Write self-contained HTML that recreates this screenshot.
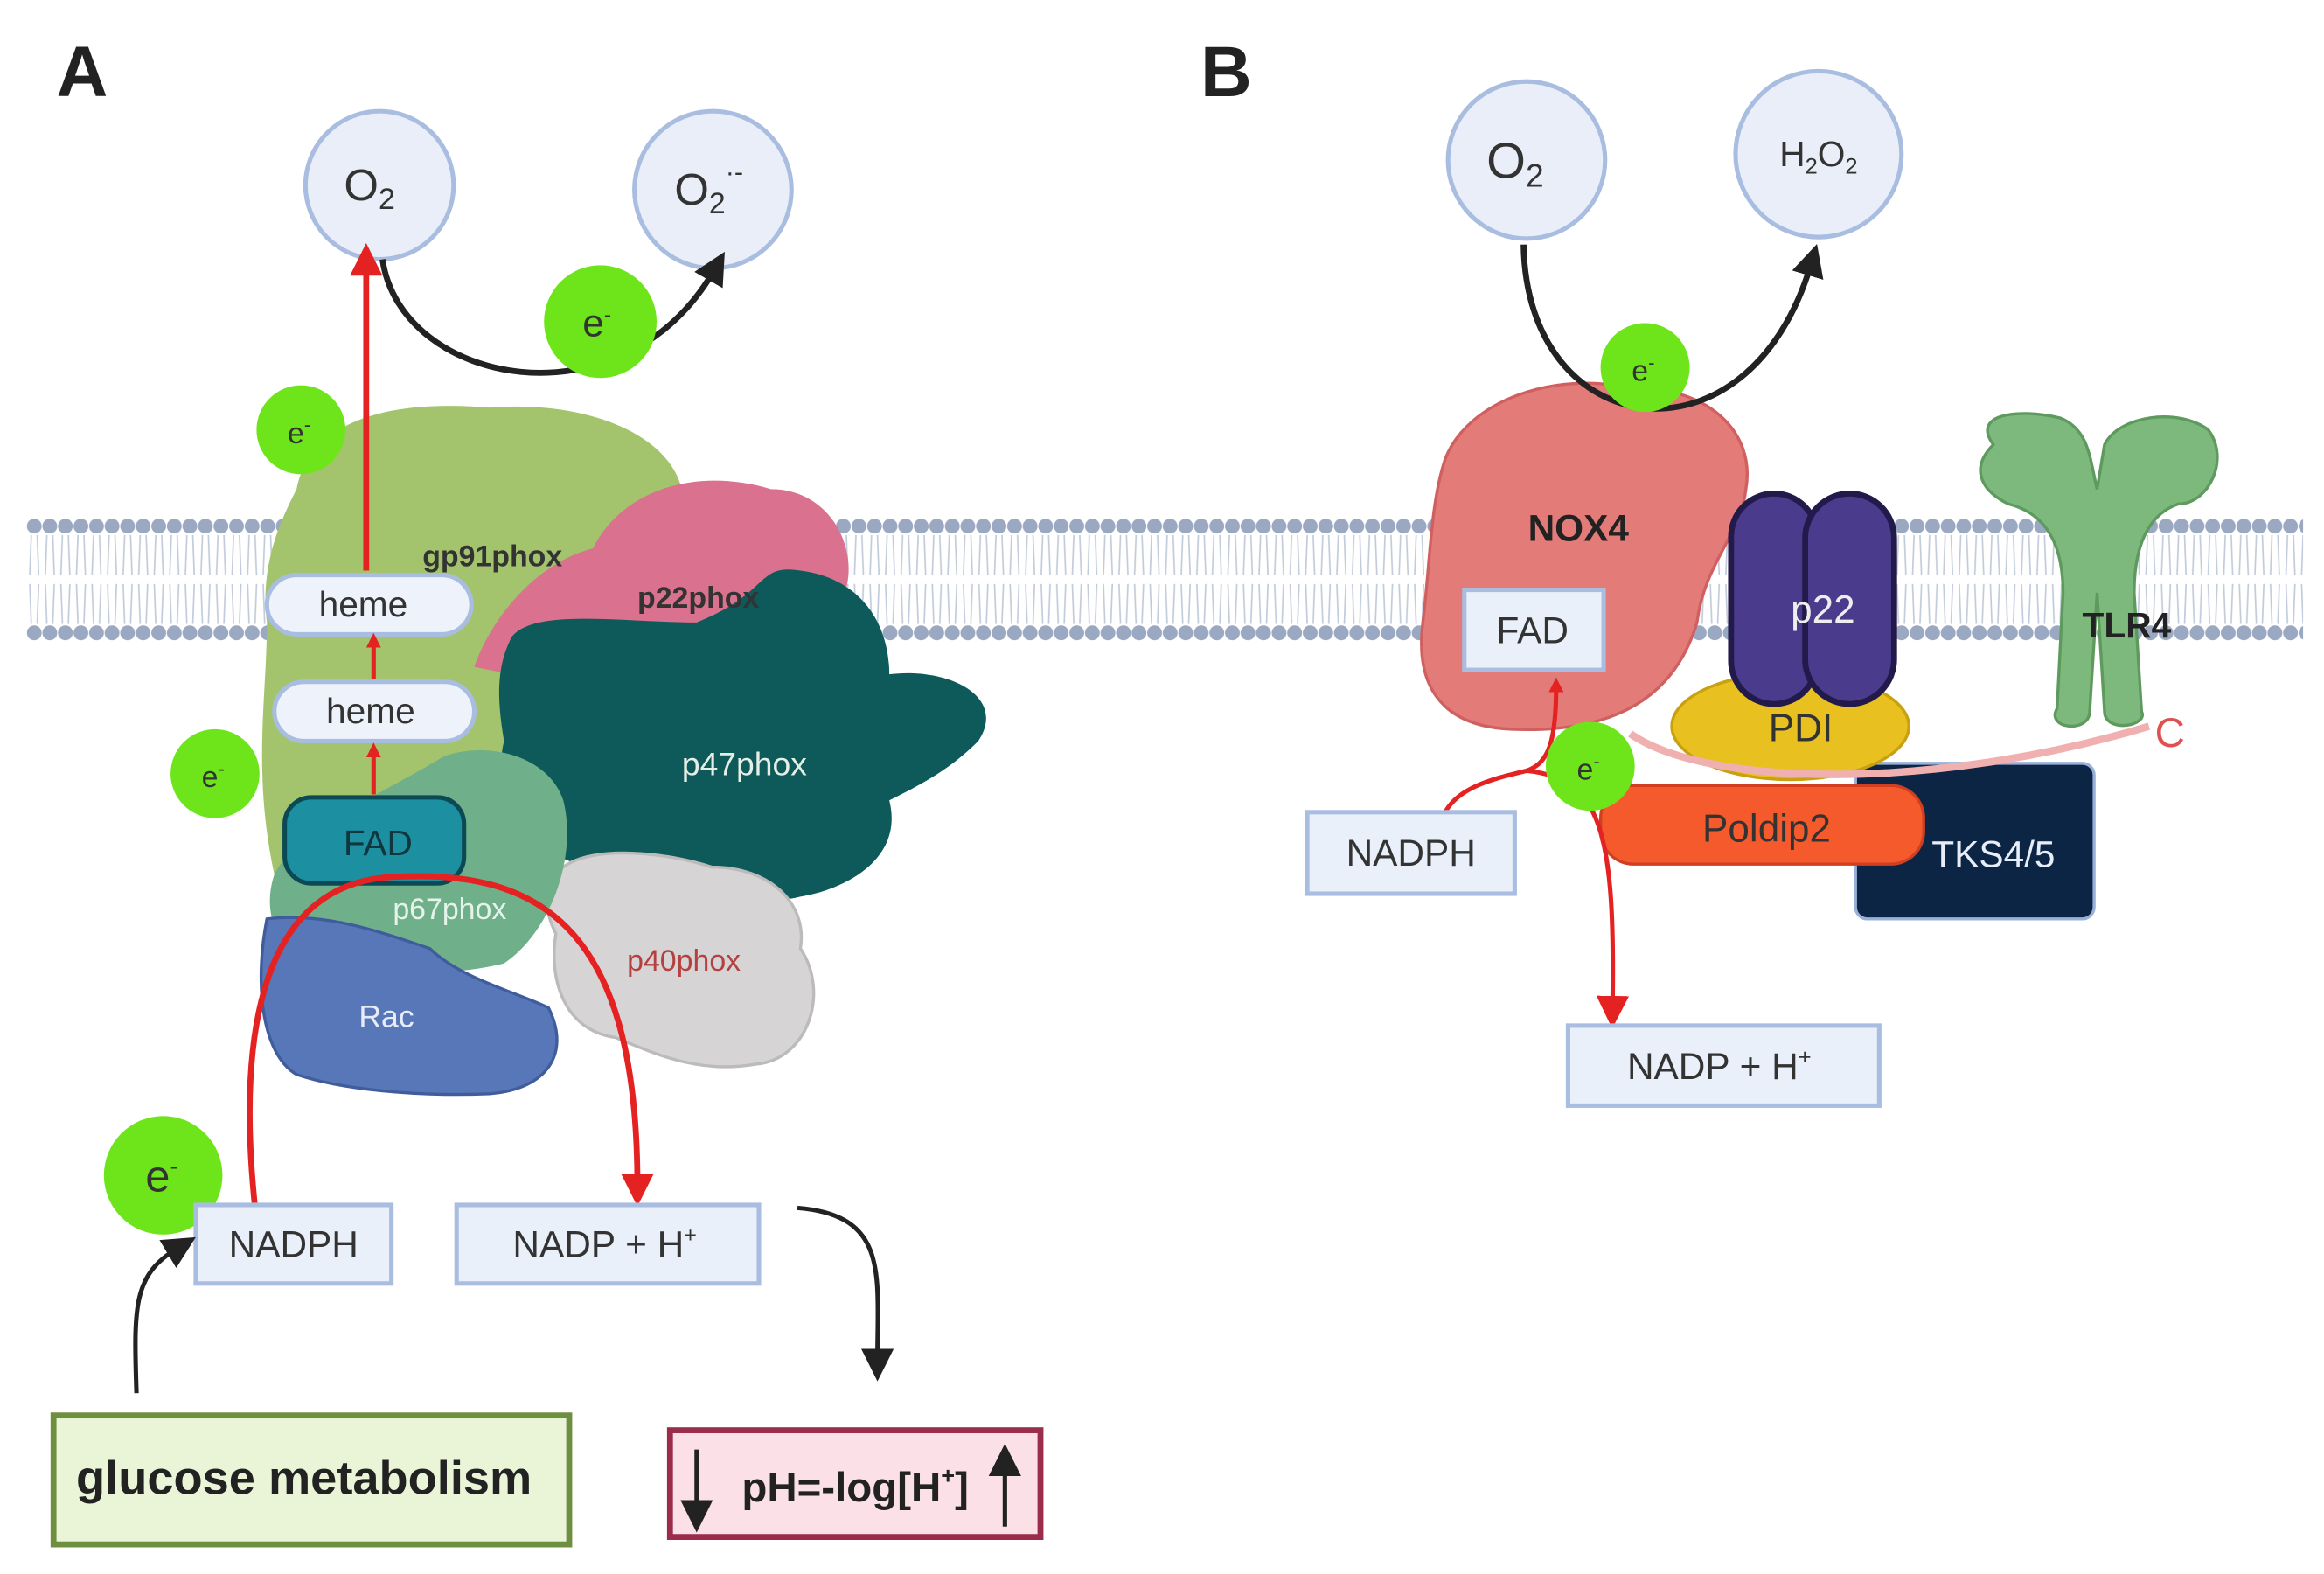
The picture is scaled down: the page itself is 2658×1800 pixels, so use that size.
<!DOCTYPE html>
<html><head><meta charset="utf-8"><style>
html,body{margin:0;padding:0;background:#fff;}
svg{display:block;font-family:"Liberation Sans",sans-serif;}
</style></head><body>
<svg width="2658" height="1800" viewBox="0 0 1568 1062" xmlns="http://www.w3.org/2000/svg">
<defs>
<pattern id="beads" x="18" y="0" width="10.5" height="1062" patternUnits="userSpaceOnUse">
<circle cx="5" cy="355" r="5" fill="#9aa8c2"/>
<circle cx="5" cy="427" r="5" fill="#9aa8c2"/>
<path d="M3 361 L2 388 M7 361 L8 388 M3 421 L2 394 M7 421 L8 394" stroke="#c2cbdb" stroke-width="1" fill="none"/>
</pattern>
<marker id="ar" markerWidth="10" markerHeight="10" refX="5" refY="5" orient="auto" markerUnits="userSpaceOnUse" viewBox="0 0 10 10"><path d="M0 0 L10 5 L0 10z" fill="#e52222"/></marker>
<marker id="arB" markerWidth="22" markerHeight="22" refX="8" refY="11" orient="auto" markerUnits="userSpaceOnUse" viewBox="0 0 22 22"><path d="M0 0 L22 11 L0 22z" fill="#222"/></marker>
<marker id="arR" markerWidth="22" markerHeight="22" refX="8" refY="11" orient="auto" markerUnits="userSpaceOnUse" viewBox="0 0 22 22"><path d="M0 0 L22 11 L0 22z" fill="#e52222"/></marker>
</defs>
<rect width="1568" height="1062" fill="#fff"/>
<rect x="18" y="340" width="1536" height="100" fill="url(#beads)"/>

<text x="38" y="65" font-size="48" font-weight="bold" fill="#222">A</text>
<text x="810" y="65" font-size="48" font-weight="bold" fill="#222">B</text>

<!-- A circles -->
<circle cx="256" cy="125" r="50" fill="#e9eef8" stroke="#a8bde0" stroke-width="3"/>
<text x="232" y="135" font-size="30" fill="#333">O<tspan font-size="20" dy="6">2</tspan></text>
<circle cx="481" cy="128" r="53" fill="#e9eef8" stroke="#a8bde0" stroke-width="3"/>
<text x="455" y="138" font-size="30" fill="#333">O<tspan font-size="20" dy="6">2</tspan><tspan font-size="18" dy="-22">·-</tspan></text>
<path d="M258 175 C270 260,420 290,482 182" stroke="#222" stroke-width="4" fill="none" marker-end="url(#arB)"/>

<!-- A proteins -->
<path d="M200 330 C210 280,270 270,330 275 C390 270,450 290,460 330 C470 370,430 400,400 420 C380 480,380 560,330 560 C300 620,200 640,185 590 C170 520,180 470,180 420 C175 380,190 350,200 330z" fill="#a3c46d"/>
<path d="M320 450 C330 420,360 380,400 370 C420 330,470 315,520 330 C560 330,580 370,570 400 C560 440,500 470,470 470 C420 470,370 460,320 450z" fill="#d9718f"/>
<path d="M345 430 C360 410,420 420,470 420 C520 400,510 380,540 385 C580 390,600 420,600 455 C640 450,680 470,660 500 C640 520,620 530,600 540 C610 580,570 600,540 605 C500 615,450 595,400 585 C360 580,330 540,340 500 C335 470,335 450,345 430z" fill="#0e5a5a"/>
<path d="M380 585 C400 570,450 575,480 585 C520 585,545 610,540 640 C560 670,545 715,510 718 C470 725,440 710,415 700 C380 695,370 660,375 630 C365 610,368 595,380 585z" fill="#d6d4d4" stroke="#bbb" stroke-width="2"/>
<path d="M185 590 C200 560,250 540,300 510 C330 500,370 510,380 540 C390 580,370 630,340 650 C300 660,230 660,195 640 C180 625,180 605,185 590z" fill="#6fb08a"/>
<path d="M180 620 C220 615,260 630,290 640 C310 660,350 670,370 680 C385 710,370 735,330 738 C280 740,230 735,200 725 C175 710,172 660,180 620z" fill="#5877b8" stroke="#3f5d9c" stroke-width="2"/>
<text x="285" y="382" font-size="20" font-weight="bold" fill="#333">gp91phox</text>
<text x="430" y="410" font-size="20" font-weight="bold" fill="#333">p22phox</text>
<text x="460" y="523" font-size="22" fill="#e6efe6">p47phox</text>
<text x="423" y="655" font-size="20" fill="#b54040">p40phox</text>
<text x="265" y="620" font-size="20" fill="#e6f3ea">p67phox</text>
<text x="242" y="693" font-size="21" fill="#e6ecf8">Rac</text>

<!-- heme/FAD -->
<line x1="247" y1="385" x2="247" y2="178" stroke="#e52222" stroke-width="4" marker-end="url(#arR)"/>
<rect x="180" y="388" width="138" height="40" rx="20" fill="#eef2fb" stroke="#a8bde0" stroke-width="3"/>
<text x="245" y="416" font-size="24" text-anchor="middle" fill="#333">heme</text>
<line x1="252" y1="458" x2="252" y2="432" stroke="#e52222" stroke-width="3" marker-end="url(#ar)"/>
<rect x="185" y="460" width="135" height="40" rx="20" fill="#eef2fb" stroke="#a8bde0" stroke-width="3"/>
<text x="250" y="488" font-size="24" text-anchor="middle" fill="#333">heme</text>
<line x1="252" y1="536" x2="252" y2="506" stroke="#e52222" stroke-width="3" marker-end="url(#ar)"/>
<rect x="192" y="538" width="121" height="58" rx="18" fill="#1c8fa0" stroke="#0b4a55" stroke-width="3"/>
<text x="255" y="577" font-size="24" text-anchor="middle" fill="#10363e">FAD</text>

<!-- red arc A -->
<path d="M172 815 C160 700,175 600,260 592 C360 585,430 620,430 800" stroke="#e52222" stroke-width="4" fill="none" marker-end="url(#arR)"/>

<!-- e- circles -->
<g font-size="26" fill="#333">
<circle cx="405" cy="217" r="38" fill="#6ee51a"/><text x="393" y="227">e<tspan font-size="15" dy="-10">-</tspan></text>
<circle cx="203" cy="290" r="30" fill="#6ee51a"/><text x="194" y="299" font-size="20">e<tspan font-size="13" dy="-8">-</tspan></text>
<circle cx="145" cy="522" r="30" fill="#6ee51a"/><text x="136" y="531" font-size="20">e<tspan font-size="13" dy="-8">-</tspan></text>
<circle cx="110" cy="793" r="40" fill="#6ee51a"/><text x="98" y="804" font-size="30">e<tspan font-size="16" dy="-12">-</tspan></text>
<circle cx="1110" cy="248" r="30" fill="#6ee51a"/><text x="1101" y="257" font-size="20">e<tspan font-size="13" dy="-8">-</tspan></text>
</g>

<!-- A bottom boxes -->
<rect x="132" y="813" width="132" height="53" fill="#eaf0fa" stroke="#a8bde0" stroke-width="3"/>
<text x="198" y="848" font-size="25" text-anchor="middle" fill="#333">NADPH</text>
<rect x="308" y="813" width="204" height="53" fill="#eaf0fa" stroke="#a8bde0" stroke-width="3"/>
<text x="408" y="848" font-size="25" text-anchor="middle" fill="#333">NADP + H<tspan font-size="15" dy="-10">+</tspan></text>
<path d="M538 815 C600 820,592 860,592 918" stroke="#222" stroke-width="3" fill="none" marker-end="url(#arB)"/>
<path d="M92 940 C90 880,90 860,120 842" stroke="#222" stroke-width="3" fill="none" marker-end="url(#arB)"/>
<rect x="36" y="955" width="348" height="87" fill="#eaf5d8" stroke="#6f8f40" stroke-width="4"/>
<text x="205" y="1008" font-size="32" font-weight="bold" text-anchor="middle" fill="#222">glucose metabolism</text>
<rect x="452" y="965" width="250" height="72" fill="#fbe0e8" stroke="#9a2c4c" stroke-width="4"/>
<line x1="470" y1="978" x2="470" y2="1020" stroke="#222" stroke-width="3" marker-end="url(#arB)"/>
<line x1="678" y1="1030" x2="678" y2="988" stroke="#222" stroke-width="3" marker-end="url(#arB)"/>
<text x="577" y="1013" font-size="28" font-weight="bold" text-anchor="middle" fill="#222">pH=-log[H<tspan font-size="16" dy="-12">+</tspan><tspan dy="12">]</tspan></text>

<!-- B -->
<circle cx="1030" cy="108" r="53" fill="#e9eef8" stroke="#a8bde0" stroke-width="3"/>
<text x="1003" y="120" font-size="34" fill="#333">O<tspan font-size="22" dy="6">2</tspan></text>
<circle cx="1227" cy="104" r="56" fill="#e9eef8" stroke="#a8bde0" stroke-width="3"/>
<text x="1227" y="112" font-size="24" text-anchor="middle" fill="#333">H<tspan font-size="15" dy="5">2</tspan><tspan dy="-5">O</tspan><tspan font-size="15" dy="5">2</tspan></text>

<path d="M975 310 C990 270,1050 250,1100 262 C1150 260,1185 290,1178 330 C1175 360,1150 380,1145 420 C1130 470,1090 495,1020 492 C970 490,955 460,960 420 C965 380,965 340,975 310z" fill="#e37b78" stroke="#d06060" stroke-width="2"/>
<path d="M1028 165 C1030 300,1180 320,1222 178" stroke="#222" stroke-width="4" fill="none" marker-end="url(#arB)"/>
<circle cx="1110" cy="248" r="30" fill="#6ee51a"/><text x="1101" y="257" font-size="20" fill="#333">e<tspan font-size="13" dy="-8">-</tspan></text>
<text x="1065" y="365" font-size="25" font-weight="bold" text-anchor="middle" fill="#222">NOX4</text>

<!-- TLR4 -->
<path d="M1345 300 C1330 280,1360 275,1390 282 C1410 290,1410 310,1415 330 L1420 300 C1430 280,1470 275,1490 290 C1505 310,1490 340,1470 340 C1455 345,1440 360,1440 400 L1445 480 C1450 490,1420 495,1420 480 L1415 400 L1410 480 C1410 495,1380 492,1388 478 L1392 400 C1392 360,1375 345,1355 340 C1335 330,1330 315,1345 300z" fill="#7db87d" stroke="#5e9a5e" stroke-width="2"/>
<text x="1435" y="430" font-size="24" font-weight="bold" text-anchor="middle" fill="#222">TLR4</text>

<rect x="1252" y="515" width="161" height="105" rx="8" fill="#0c2545" stroke="#9ab0d8" stroke-width="2"/>
<text x="1345" y="585" font-size="25" text-anchor="middle" fill="#e8eef8">TKS4/5</text>
<ellipse cx="1208" cy="490" rx="80" ry="36" fill="#e8c020" stroke="#c8a010" stroke-width="2"/>
<text x="1215" y="500" font-size="26" text-anchor="middle" fill="#333">PDI</text>
<rect x="1168" y="333" width="58" height="142" rx="29" fill="#4a3b8c" stroke="#221a4a" stroke-width="4"/>
<rect x="1218" y="333" width="60" height="142" rx="30" fill="#4a3b8c" stroke="#221a4a" stroke-width="4"/>
<text x="1230" y="420" font-size="26" text-anchor="middle" fill="#eee">p22</text>
<rect x="1080" y="530" width="218" height="53" rx="22" fill="#f55a2c" stroke="#d04020" stroke-width="2"/>
<text x="1192" y="568" font-size="26" text-anchor="middle" fill="#333">Poldip2</text>
<path d="M1100 495 C1150 530,1300 535,1450 490" stroke="#f0b0b0" stroke-width="5" fill="none"/>
<text x="1454" y="504" font-size="28" fill="#e05050">C</text>

<rect x="988" y="398" width="94" height="54" fill="#eaf0fa" stroke="#a8bde0" stroke-width="3"/>
<text x="1034" y="434" font-size="25" text-anchor="middle" fill="#333">FAD</text>
<path d="M975 548 C985 530,1010 525,1030 520 C1045 515,1050 500,1050 462" stroke="#e52222" stroke-width="3" fill="none" marker-end="url(#ar)"/>
<path d="M1030 520 C1080 525,1090 560,1088 680" stroke="#e52222" stroke-width="3" fill="none" marker-end="url(#arR)"/>
<circle cx="1073" cy="517" r="30" fill="#6ee51a"/><text x="1064" y="526" font-size="20" fill="#333">e<tspan font-size="13" dy="-8">-</tspan></text>
<rect x="882" y="548" width="140" height="55" fill="#eaf0fa" stroke="#a8bde0" stroke-width="3"/>
<text x="952" y="584" font-size="25" text-anchor="middle" fill="#333">NADPH</text>
<rect x="1058" y="692" width="210" height="54" fill="#eaf0fa" stroke="#a8bde0" stroke-width="3"/>
<text x="1160" y="728" font-size="25" text-anchor="middle" fill="#333">NADP + H<tspan font-size="15" dy="-10">+</tspan></text>
</svg>
</body></html>
